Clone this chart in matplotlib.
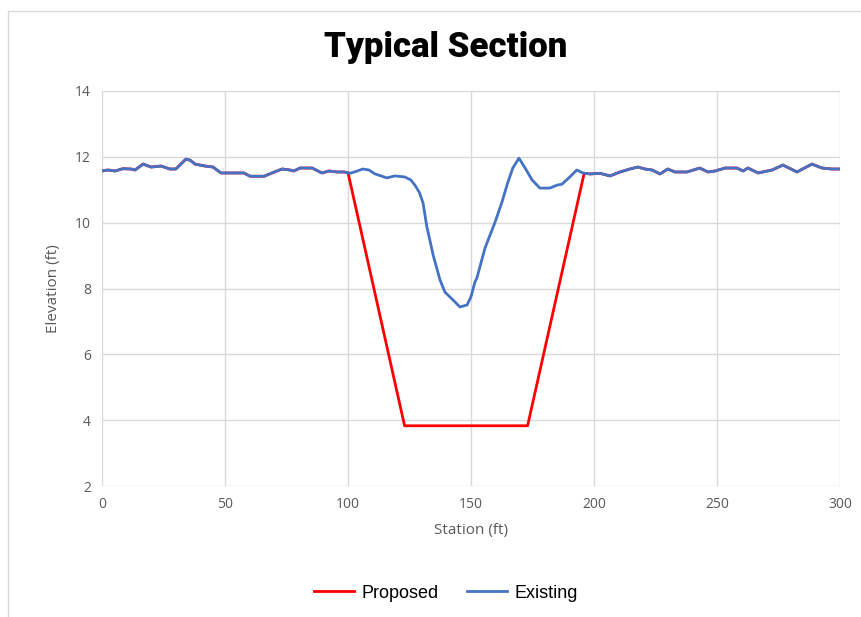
import numpy as np
import matplotlib
matplotlib.use("Agg")
import matplotlib.pyplot as plt
from matplotlib.patches import Rectangle

# existing ground profile (station ft, elevation ft)
existing_sta = [0, 2.4, 5.3, 8.5, 11.8, 13.4, 16.7, 19.9, 24, 27.6, 30, 34.1, 35.8, 37.8,
                41.9, 45.1, 48.4, 51.6, 57.7, 60.2, 65.9, 69.1, 73.2, 76.4, 78, 80.5,
                85.4, 89.4, 92.3, 95.5, 98.4, 100.8, 103, 106, 108.5, 111, 115.8, 119,
                123, 125.5, 127.2, 129, 130.5, 132, 134.6, 137.4, 139.4, 142.7, 145.5,
                148.4, 150, 151.6, 152.4, 155.7, 159.8, 162.6, 165, 167, 169.5, 172,
                174.8, 178, 182, 185, 187, 190.2, 193, 195.5, 198.4, 202.4, 206.5,
                210.6, 214.6, 217.9, 220.7, 223.6, 226.8, 230, 232.9, 237.8, 243,
                246.3, 249.2, 253.3, 258.1, 260.6, 262.6, 266.7, 272.4, 276.8, 282.5,
                288.6, 292.7, 296.7, 300]
existing_elev = [11.57, 11.6, 11.57, 11.64, 11.63, 11.6, 11.78, 11.69, 11.72, 11.63, 11.63,
                 11.93, 11.9, 11.78, 11.72, 11.69, 11.51, 11.51, 11.51, 11.41, 11.41, 11.51,
                 11.63, 11.6, 11.57, 11.66, 11.66, 11.51, 11.57, 11.54, 11.54, 11.5, 11.55,
                 11.63, 11.6, 11.48, 11.36, 11.42, 11.39, 11.3, 11.14, 10.92, 10.6, 9.9,
                 9.02, 8.26, 7.89, 7.65, 7.44, 7.5, 7.75, 8.2, 8.32, 9.23, 10.02, 10.63,
                 11.23, 11.66, 11.96, 11.66, 11.3, 11.05, 11.05, 11.14, 11.17, 11.39,
                 11.6, 11.51, 11.48, 11.5, 11.42, 11.54, 11.63, 11.69, 11.63, 11.6, 11.48,
                 11.63, 11.54, 11.54, 11.66, 11.54, 11.57, 11.66, 11.66, 11.57, 11.66,
                 11.51, 11.6, 11.75, 11.54, 11.78, 11.66, 11.63, 11.63]

# proposed channel cut
channel_sta = [100, 123, 173, 196]
channel_elev = [11.52, 3.83, 3.83, 11.5]

ex_x = np.array(existing_sta)
ex_y = np.array(existing_elev)
left = ex_x < channel_sta[0]
right = ex_x > channel_sta[-1]
prop_x = np.concatenate([ex_x[left], channel_sta, ex_x[right]])
prop_y = np.concatenate([ex_y[left], channel_elev, ex_y[right]])

fig = plt.figure(figsize=(8.62, 6.17), dpi=100)
fig.patches.append(Rectangle((8 / 862, -0.01), 1.0, 1 - 11 / 617 + 0.01,
                             transform=fig.transFigure, fill=False,
                             edgecolor='#d9d9d9', linewidth=1))
ax = fig.add_axes([102 / 862, 1 - 486 / 617, (840 - 102) / 862, (486 - 91) / 617])

ax.plot(prop_x, prop_y, color='#ff0000', lw=2.0, label='Proposed', zorder=3)
ax.plot(ex_x, ex_y, color='#4472c4', lw=2.0, label='Existing', zorder=4)

ax.set_xlim(0, 300)
ax.set_ylim(2, 14)
ax.set_xticks(np.arange(0, 301, 50))
ax.set_yticks(np.arange(2, 15, 2))
ax.grid(True, color='#d9d9d9', lw=1)
ax.set_axisbelow(True)
for s in ax.spines.values():
    s.set_visible(False)
ax.tick_params(length=0, labelsize=10, labelcolor='#595959', pad=8)
for lab in ax.get_xticklabels() + ax.get_yticklabels():
    lab.set_family(['Open Sans', 'DejaVu Sans'])

ax.set_xlabel('Station (ft)', fontsize=11, color='#595959', family=['Open Sans', 'DejaVu Sans'], labelpad=8)
ax.set_ylabel('Elevation (ft)', fontsize=11, color='#595959', family=['Open Sans', 'DejaVu Sans'], labelpad=10)

fig.text(446 / 862, 1 - 47 / 617, 'Typical Section', ha='center', va='center',
         fontsize=25, fontweight='black', family=['Roboto', 'DejaVu Sans'])

fig.legend(loc='center', bbox_to_anchor=(446 / 862, 1 - 593 / 617), ncol=2, frameon=False,
           handlelength=2.2, columnspacing=1.6, handletextpad=0.4,
           prop={'family': ['Liberation Sans', 'DejaVu Sans'], 'size': 13})

fig.savefig('out.png', dpi=100)
